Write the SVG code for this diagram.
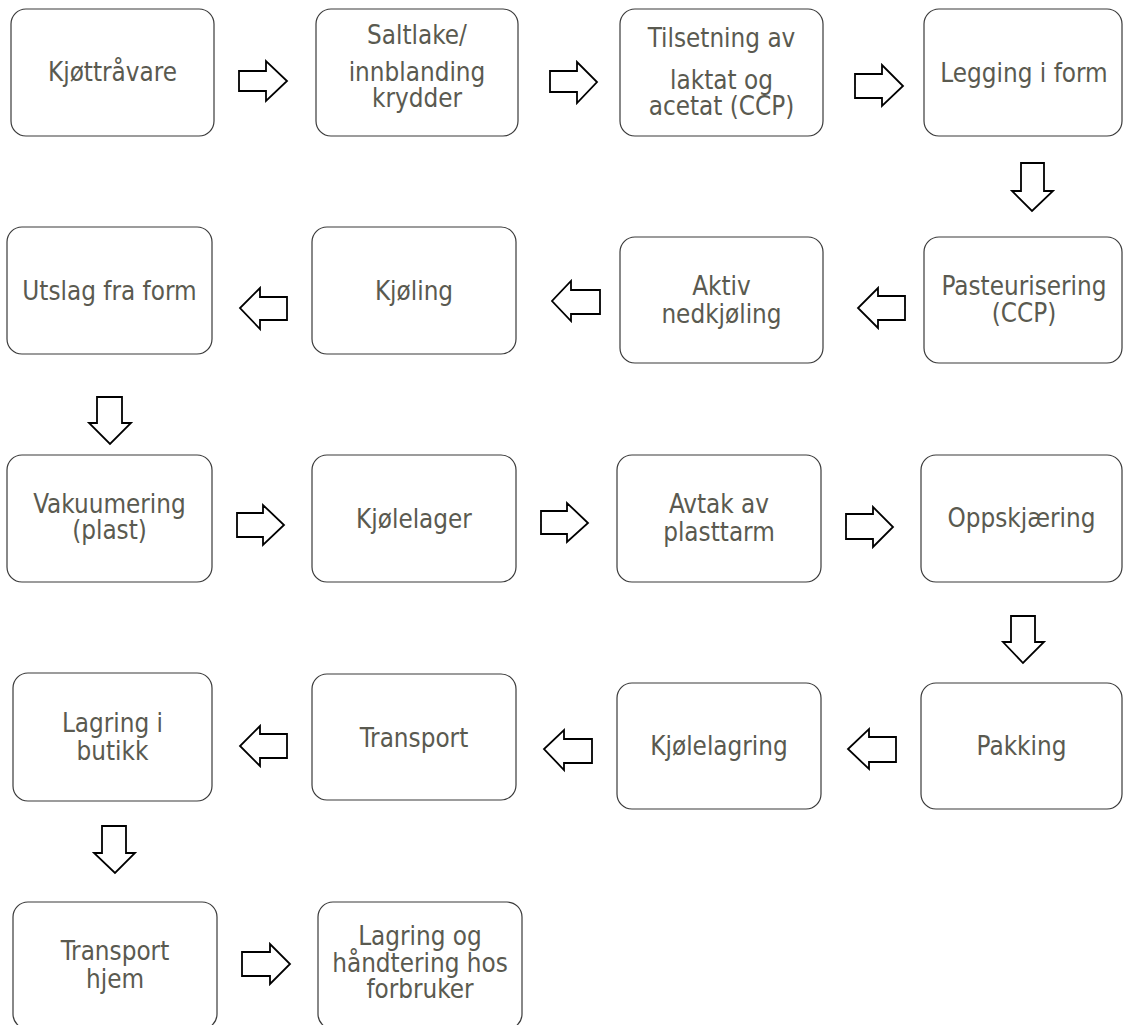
<svg xmlns="http://www.w3.org/2000/svg" width="1123" height="1025" viewBox="0 0 1123 1025">
<style>
.box{fill:#fff;stroke:#3a3a3a;stroke-width:1.2}
.t{font-family:"DejaVu Sans Condensed","DejaVu Sans",sans-serif;font-stretch:condensed;font-size:25.8px;fill:#5a5a50;text-anchor:middle}
.arr{fill:#fff;stroke:#000;stroke-width:1.8;stroke-linejoin:miter}
</style>
<rect width="1123" height="1025" fill="#fff"/>
<g id="connectors">
<polygon class="arr" points="239,71 266,71 266,61 287,81 266,101 266,91 239,91"/>
<polygon class="arr" points="550,71 577,71 577,62 597,82 577,103 577,92 550,92"/>
<polygon class="arr" points="855,74 882,74 882,65 903,86 882,106 882,98 855,98"/>
<polygon class="arr" points="1021,163 1044,163 1044,191 1053,191 1032,211 1012,191 1021,191"/>
<polygon class="arr" points="905,296 878,296 878,288 858,308 878,328 878,320 905,320"/>
<polygon class="arr" points="600,290 571,290 571,281 552,301 571,321 571,314 600,314"/>
<polygon class="arr" points="287,297 260,297 260,288 240,308 260,329 260,320 287,320"/>
<polygon class="arr" points="97,397 122,397 122,423 131,423 110,444 89,423 97,423"/>
<polygon class="arr" points="237,513 263,513 263,505 284,525 263,545 263,537 237,537"/>
<polygon class="arr" points="541,511 567,511 567,503 588,523 567,542 567,534 541,534"/>
<polygon class="arr" points="846,514 873,514 873,507 893,527 873,547 873,539 846,539"/>
<polygon class="arr" points="1011,616 1035,616 1035,642 1044,642 1023,663 1003,642 1011,642"/>
<polygon class="arr" points="896,737 869,737 869,729 848,749 869,769 869,762 896,762"/>
<polygon class="arr" points="592,739 564,739 564,730 544,749 564,770 564,763 592,763"/>
<polygon class="arr" points="287,734 260,734 260,726 240,746 260,766 260,758 287,758"/>
<polygon class="arr" points="102,826 126,826 126,853 135,853 115,873 94,853 102,853"/>
<polygon class="arr" points="242,952 270,952 270,944 290,964 270,984 270,976 242,976"/>
</g>
<g id="n1"><rect class="box" x="11" y="9" width="203" height="127" rx="15"/><text class="t" x="112.5" y="81">Kjøttråvare</text></g>
<g id="n2"><rect class="box" x="316" y="9" width="202" height="127" rx="15"/><text class="t" x="417" y="44">Saltlake/</text><text class="t" x="417" y="81">innblanding</text><text class="t" x="417" y="107">krydder</text></g>
<g id="n3"><rect class="box" x="620" y="9" width="203" height="127" rx="15"/><text class="t" x="721.5" y="47">Tilsetning av</text><text class="t" x="721.5" y="89">laktat og</text><text class="t" x="721.5" y="115">acetat (CCP)</text></g>
<g id="n4"><rect class="box" x="924" y="9" width="198" height="127" rx="15"/><text class="t" x="1024" y="82">Legging i form</text></g>
<g id="n5"><rect class="box" x="924" y="237" width="198" height="126" rx="15"/><text class="t" x="1024" y="295">Pasteurisering</text><text class="t" x="1024" y="322">(CCP)</text></g>
<g id="n6"><rect class="box" x="620" y="237" width="203" height="126" rx="15"/><text class="t" x="721.5" y="295">Aktiv</text><text class="t" x="721.5" y="323">nedkjøling</text></g>
<g id="n7"><rect class="box" x="312" y="227" width="204" height="127" rx="15"/><text class="t" x="414" y="300">Kjøling</text></g>
<g id="n8"><rect class="box" x="7" y="227" width="205" height="127" rx="15"/><text class="t" x="109.5" y="300">Utslag fra form</text></g>
<g id="n9"><rect class="box" x="7" y="455" width="205" height="127" rx="15"/><text class="t" x="109.5" y="513">Vakuumering</text><text class="t" x="109.5" y="539">(plast)</text></g>
<g id="n10"><rect class="box" x="312" y="455" width="204" height="127" rx="15"/><text class="t" x="414" y="528">Kjølelager</text></g>
<g id="n11"><rect class="box" x="617" y="455" width="204" height="127" rx="15"/><text class="t" x="719" y="513">Avtak av</text><text class="t" x="719" y="541">plasttarm</text></g>
<g id="n12"><rect class="box" x="921" y="455" width="201" height="127" rx="15"/><text class="t" x="1021.5" y="527">Oppskjæring</text></g>
<g id="n13"><rect class="box" x="921" y="683" width="201" height="126" rx="15"/><text class="t" x="1021.5" y="755">Pakking</text></g>
<g id="n14"><rect class="box" x="617" y="683" width="204" height="126" rx="15"/><text class="t" x="719" y="755">Kjølelagring</text></g>
<g id="n15"><rect class="box" x="312" y="674" width="204" height="126" rx="15"/><text class="t" x="414" y="747">Transport</text></g>
<g id="n16"><rect class="box" x="13" y="673" width="199" height="128" rx="15"/><text class="t" x="112.5" y="732">Lagring i</text><text class="t" x="112.5" y="760">butikk</text></g>
<g id="n17"><rect class="box" x="13" y="902" width="204" height="127" rx="15"/><text class="t" x="115" y="960">Transport</text><text class="t" x="115" y="988">hjem</text></g>
<g id="n18"><rect class="box" x="318" y="902" width="204" height="127" rx="15"/><text class="t" x="420" y="945">Lagring og</text><text class="t" x="420" y="972">håndtering hos</text><text class="t" x="420" y="998">forbruker</text></g>
</svg>
